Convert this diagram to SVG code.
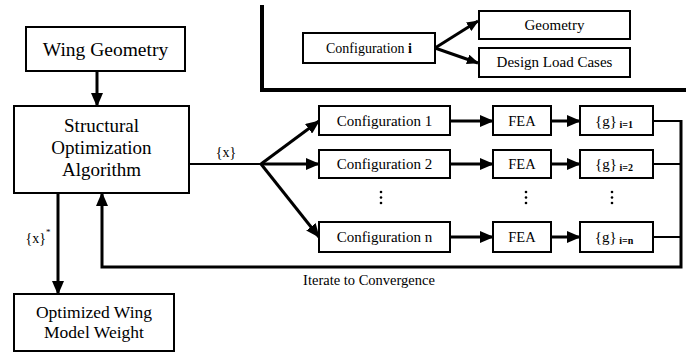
<svg xmlns="http://www.w3.org/2000/svg" width="686" height="352" viewBox="0 0 686 352" font-family="'Liberation Serif', 'Times New Roman', 'DejaVu Serif', serif">
<defs>
<style>
.box{fill:#fff;stroke:#000;stroke-width:2}
.t{font-family:'Liberation Serif','Times New Roman','DejaVu Serif',serif;fill:#000;text-anchor:middle}
.big{font-size:19px}
.mid{font-size:15px}
.sm{font-size:14.5px}
.sub{font-size:10px;font-weight:bold}
.thick{stroke:#000;stroke-width:3;fill:none}
.thin{stroke:#000;stroke-width:2;fill:none}
.frame{stroke:#000;stroke-width:4;fill:none}
</style>
<marker id="ah" viewBox="0 0 14 12" refX="13" refY="6" markerWidth="14" markerHeight="12" markerUnits="userSpaceOnUse" orient="auto"><path d="M0,0 L14,6 L0,12 z" fill="#000"/></marker>
<marker id="ahs" viewBox="0 0 12 10" refX="11" refY="5" markerWidth="12" markerHeight="10" markerUnits="userSpaceOnUse" orient="auto"><path d="M0,0 L12,5 L0,10 z" fill="#000"/></marker>
</defs>
<rect width="686" height="352" fill="#fff"/>

<g id="inset-frame">
<path class="frame" d="M262,5 V90 H686"/>
</g>

<g id="connectors">
<line class="thick" x1="435" y1="48" x2="478" y2="21" stroke-width="2.5" marker-end="url(#ahs)"/>
<line class="thick" x1="435" y1="48" x2="478" y2="63" stroke-width="2.5" marker-end="url(#ahs)"/>
<line class="thick" x1="97" y1="71" x2="97" y2="106" marker-end="url(#ah)"/>
<line class="thin" x1="189" y1="164" x2="261" y2="164"/>
<line class="thick" x1="261" y1="164" x2="319" y2="121" marker-end="url(#ah)"/>
<line class="thick" x1="261" y1="164" x2="319" y2="164" marker-end="url(#ah)"/>
<line class="thick" x1="261" y1="164" x2="319" y2="237" marker-end="url(#ah)"/>
<line class="thick" x1="450" y1="121" x2="493" y2="121" marker-end="url(#ah)"/>
<line class="thick" x1="450" y1="164" x2="493" y2="164" marker-end="url(#ah)"/>
<line class="thick" x1="450" y1="237" x2="493" y2="237" marker-end="url(#ah)"/>
<line class="thick" x1="551" y1="121" x2="580" y2="121" marker-end="url(#ah)"/>
<line class="thick" x1="551" y1="164" x2="580" y2="164" marker-end="url(#ah)"/>
<line class="thick" x1="551" y1="237" x2="580" y2="237" marker-end="url(#ah)"/>
<line class="thin" x1="653" y1="121" x2="681" y2="121"/>
<line class="thin" x1="653" y1="164" x2="681" y2="164"/>
<line class="thin" x1="653" y1="237" x2="681" y2="237"/>
<path class="thick" d="M681,120 V267 H102 V193" marker-end="url(#ah)"/>
<line class="thick" x1="58" y1="193" x2="58" y2="294" marker-end="url(#ah)"/>
<text class="t" x="226" y="157" font-size="14">{x}</text>
<text class="t" x="38" y="243" font-size="14">{x}<tspan font-size="9" dy="-8">*</tspan></text>
<text class="t sm" x="369" y="285">Iterate to Convergence</text>
</g>

<g id="config-i">
<rect class="box" x="303" y="33" width="132" height="30"/>
<text class="t" x="369" y="53" font-size="14">Configuration <tspan font-weight="bold">i</tspan></text>
</g>
<g id="geometry">
<rect class="box" x="479" y="11" width="151" height="28"/>
<text class="t mid" x="554.5" y="30">Geometry</text>
</g>
<g id="design-load-cases">
<rect class="box" x="479" y="48" width="151" height="29"/>
<text class="t mid" x="554.5" y="67">Design Load Cases</text>
</g>

<g id="wing-geometry">
<rect class="box" x="26" y="27" width="159" height="44"/>
<text class="t" x="105.5" y="56" font-size="19.5">Wing Geometry</text>
</g>
<g id="structural-optimization">
<rect class="box" x="14" y="106" width="175" height="87"/>
<text class="t big" x="101.5" y="132">Structural</text>
<text class="t big" x="101.5" y="154">Optimization</text>
<text class="t big" x="101.5" y="176">Algorithm</text>
</g>
<g id="optimized-wing">
<rect class="box" x="14" y="294" width="160" height="57"/>
<text class="t" x="94" y="318" font-size="17.5">Optimized Wing</text>
<text class="t" x="94" y="338" font-size="17.5">Model Weight</text>
</g>

<g id="config-1">
<rect class="box" x="319" y="106" width="131" height="29"/>
<text class="t mid" x="384.5" y="126">Configuration 1</text>
</g>
<g id="config-2">
<rect class="box" x="319" y="150" width="131" height="28"/>
<text class="t mid" x="384.5" y="169">Configuration 2</text>
</g>
<g id="config-n">
<rect class="box" x="319" y="222" width="131" height="30"/>
<text class="t mid" x="384.5" y="242">Configuration n</text>
</g>
<g id="fea-1">
<rect class="box" x="493" y="106" width="58" height="29"/>
<text class="t sm" x="522" y="126">FEA</text>
</g>
<g id="fea-2">
<rect class="box" x="493" y="150" width="58" height="28"/>
<text class="t sm" x="522" y="169">FEA</text>
</g>
<g id="fea-n">
<rect class="box" x="493" y="222" width="58" height="30"/>
<text class="t sm" x="522" y="242">FEA</text>
</g>
<g id="g-1">
<rect class="box" x="580" y="106" width="73" height="29"/>
<text class="t mid" x="614" y="126">{g}<tspan class="sub" dy="2"> i=1</tspan></text>
</g>
<g id="g-2">
<rect class="box" x="580" y="150" width="73" height="28"/>
<text class="t mid" x="614" y="169">{g}<tspan class="sub" dy="2"> i=2</tspan></text>
</g>
<g id="g-n">
<rect class="box" x="580" y="222" width="73" height="30"/>
<text class="t mid" x="614" y="242">{g}<tspan class="sub" dy="2"> i=n</tspan></text>
</g>

<g id="ellipses" fill="#000">
<circle cx="381" cy="192" r="1.3"/><circle cx="381" cy="197.5" r="1.3"/><circle cx="381" cy="203" r="1.3"/>
<circle cx="526" cy="192" r="1.3"/><circle cx="526" cy="197.5" r="1.3"/><circle cx="526" cy="203" r="1.3"/>
<circle cx="612" cy="192" r="1.3"/><circle cx="612" cy="197.5" r="1.3"/><circle cx="612" cy="203" r="1.3"/>
</g>
</svg>
